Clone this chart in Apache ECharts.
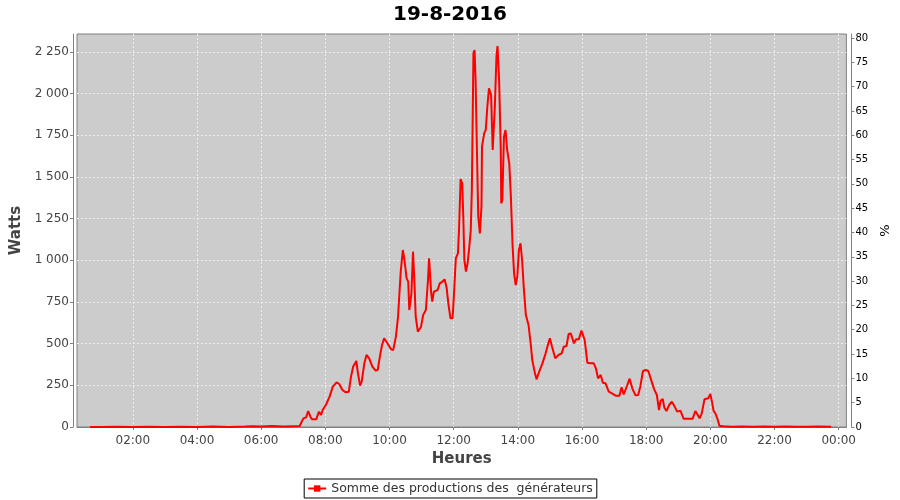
<!DOCTYPE html>
<html>
<head>
<meta charset="utf-8">
<script src="https://cdn.jsdelivr.net/npm/echarts@6/dist/echarts.min.js"></script>
<style>html,body{margin:0;padding:0;background:#fff}#c{width:900px;height:500px}</style>
</head>
<body>
<div id="c"></div>
<script>
const title = "19-8-2016";
const seriesName = "Somme des productions des  générateurs";
const times = [
"00:40","01:00","01:30","02:00","02:30","03:00","03:30","04:00","04:30","05:00","05:30","05:45","06:00","06:20","06:40","07:00","07:12",
"07:15","07:19","07:24","07:28","07:32","07:35","07:43","07:48","07:52","07:55","08:01","08:08","08:14","08:21","08:26","08:32","08:38","08:44","08:48","08:52","08:58",
"09:01","09:05","09:08","09:13","09:17","09:22","09:28","09:34","09:38","09:42","09:46","09:50","09:56",
"10:03","10:07","10:12","10:16","10:18","10:21","10:25","10:28","10:32","10:35","10:37","10:41","10:44","10:47","10:49","10:53","10:59",
"11:03","11:08","11:12","11:14","11:18","11:20","11:23","11:30","11:34","11:39","11:43","11:47","11:50","11:54","11:58",
"12:01","12:04","12:08","12:10","12:13","12:16","12:18","12:20","12:23","12:26","12:29","12:32","12:34","12:37","12:39","12:41","12:44","12:46","12:49","12:52","12:53","12:57",
"13:00","13:03","13:06","13:10","13:13","13:14","13:17","13:20","13:22","13:25","13:28","13:29","13:31","13:34","13:37","13:40","13:44","13:47","13:50","13:53","13:56","13:59",
"14:02","14:05","14:08","14:11","14:15","14:20","14:24","14:27","14:32","14:35","14:40","14:46","14:52","14:57",
"15:00","15:04","15:10","15:16","15:22","15:26","15:31","15:35","15:39","15:42","15:45","15:49","15:54","15:59",
"16:02","16:05","16:08","16:10","16:16","16:22","16:26","16:30","16:35","16:39","16:44","16:50","16:56",
"17:03","17:10","17:14","17:18","17:24","17:29","17:34","17:40","17:45","17:49","17:54","17:59",
"18:04","18:08","18:15","18:20","18:24","18:27","18:31","18:34","18:38","18:43","18:48","18:53","18:58",
"19:04","19:10","19:20","19:27","19:32","19:35","19:40","19:44","19:49","19:56",
"20:00","20:03","20:06","20:10","20:14","20:17","20:24","20:40","21:00","21:20","21:40","22:00","22:20","22:40","23:00","23:20","23:46"
];
const watts = [
0,0,2,0,2,0,2,0,3,0,3,5,3,6,3,5,6,
10,52,58,96,62,46,46,92,72,102,132,182,242,268,258,222,208,212,302,362,396,
322,248,272,382,432,412,362,338,342,422,492,532,502,
466,462,542,662,772,932,1062,1002,892,872,702,802,1052,842,662,572,602,
672,702,882,1012,802,752,812,822,862,872,886,832,742,652,652,
822,1012,1042,1182,1488,1462,1262,1002,932,982,1072,1182,1422,2242,2262,2082,1582,1262,1162,1322,1682,1762,
1782,1922,2032,1992,1662,1652,1922,2222,2285,2082,1682,1342,1362,1742,1782,1662,1582,1382,1102,922,852,902,
1062,1102,1002,842,672,612,502,402,322,286,332,382,442,502,
532,482,412,432,442,482,486,558,562,532,502,526,526,578,
572,522,442,386,382,382,352,292,312,266,262,212,202,
188,188,238,195,246,290,232,190,192,242,336,342,
336,296,226,192,102,158,168,116,96,132,152,124,92,
98,50,50,50,96,102,52,82,166,172,
198,152,98,78,42,8,4,2,3,2,3,2,3,2,2,3,2
];
const xTicks = [2,4,6,8,10,12,14,16,18,20,22,24];
const leftTicks = [0,250,500,750,1000,1250,1500,1750,2000,2250];
const rightTicks = [0,5,10,15,20,25,30,35,40,45,50,55,60,65,70,75,80];

function toHours(t){const p=t.split(':');return +p[0]+(+p[1])/60;}
const data = times.map((t,i)=>[toHours(t), watts[i]]);
function fmtThousands(v){const s=String(v);return s.length>3? s.slice(0,s.length-3)+'\u00a0'+s.slice(s.length-3):s;}
function fmtHour(v){const h=Math.round(v)%24;return (h<10?'0':'')+h+':00';}

const F = 'DejaVu Sans';
const chart = echarts.init(document.getElementById('c'), null, {renderer:'canvas'});
chart.setOption({
  animation:false,
  backgroundColor:'#ffffff',
  title:{text:title,left:'center',top:0,textStyle:{fontFamily:F,fontSize:20,fontWeight:'bold',color:'#000'}},
  legend:{bottom:2,left:'center',data:[seriesName],borderColor:'#000',borderWidth:1,padding:[3,4,3,3],itemGap:4,itemWidth:18,itemHeight:8,
    textStyle:{fontFamily:F,fontSize:12.5,color:'#333'}},
  grid:{left:77,right:52,top:34,bottom:73,show:true,backgroundColor:'#cccccc',borderColor:'#808080',borderWidth:1,containLabel:false},
  xAxis:{type:'value',min:0.26,max:24.24,offset:4,
    name:'Heures',nameLocation:'middle',nameGap:19,nameTextStyle:{fontFamily:F,fontSize:15,fontWeight:'bold',color:'#444'},
    axisLine:{show:true,lineStyle:{color:'#808080'}},
    axisTick:{show:true,length:3,inside:false,customValues:xTicks,lineStyle:{color:'#808080'}},
    axisLabel:{customValues:xTicks,formatter:fmtHour,margin:4,fontFamily:F,fontSize:12,color:'#444'},
    splitLine:{show:true,lineStyle:{color:'#eeeeee',type:[2,2],width:1}}},
  yAxis:[
    {type:'value',min:0,max:2358,offset:4,position:'left',
      name:'Watts',nameLocation:'middle',nameGap:42,nameRotate:90,nameTextStyle:{fontFamily:F,fontSize:15,fontWeight:'bold',color:'#444'},
      axisLine:{show:true,lineStyle:{color:'#808080'}},
      axisTick:{show:true,length:3,customValues:leftTicks,lineStyle:{color:'#808080'}},
      axisLabel:{customValues:leftTicks,formatter:fmtThousands,margin:4,fontFamily:F,fontSize:12,color:'#444'},
      splitLine:{show:true,lineStyle:{color:'#eeeeee',type:[2,2],width:1}}},
    {type:'value',min:0,max:80.82,offset:5,position:'right',
      name:'%',nameLocation:'middle',nameGap:23,nameRotate:90,nameTextStyle:{fontFamily:F,fontSize:13,color:'#000'},
      axisLine:{show:true,lineStyle:{color:'#808080'}},
      axisTick:{show:true,length:3,customValues:rightTicks,lineStyle:{color:'#808080'}},
      axisLabel:{customValues:rightTicks,margin:4,fontFamily:F,fontSize:10,color:'#000'},
      splitLine:{show:false}}
  ],
  series:[{name:seriesName,type:'line',yAxisIndex:0,data:data,showSymbol:false,symbol:'rect',symbolSize:4,
    lineStyle:{color:'#ff0000',width:2},itemStyle:{color:'#ff0000'}}]
});
</script>
</body>
</html>
